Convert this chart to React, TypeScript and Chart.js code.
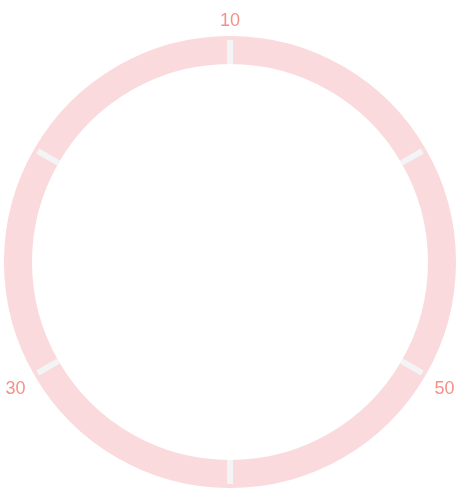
import React, { useEffect, useRef } from "react";
import { Chart, registerables } from "chart.js";

Chart.register(...registerables);

const categories = ["S1", "S2", "S3", "S4", "S5", "S6"];
const values = [1, 1, 1, 1, 1, 1];
const tickLabels = ["10", "", "50", "", "30", ""];

const RING_COLOR = "#fadadc";
const TICK_COLOR = "#f3f4f6";
const LABEL_COLOR = "#f4918a";

const ringPlugin = {
  id: "ringTicks",
  afterDatasetsDraw(chart: any) {
    const meta = chart.getDatasetMeta(0);
    const ctx = chart.ctx as CanvasRenderingContext2D;
    ctx.save();
    meta.data.forEach((arc: any, i: number) => {
      const { x, y, startAngle, innerRadius, outerRadius } = arc.getProps(
        ["x", "y", "startAngle", "innerRadius", "outerRadius"],
        true
      );
      const cos = Math.cos(startAngle);
      const sin = Math.sin(startAngle);
      ctx.strokeStyle = TICK_COLOR;
      ctx.lineWidth = 6;
      ctx.lineCap = "butt";
      ctx.beginPath();
      ctx.moveTo(x + cos * innerRadius, y + sin * innerRadius);
      ctx.lineTo(x + cos * (outerRadius - 4), y + sin * (outerRadius - 4));
      ctx.stroke();

      const label = tickLabels[i];
      if (label) {
        const r = outerRadius + 10;
        const lx = x + cos * r;
        const ly = y + sin * r;
        ctx.fillStyle = LABEL_COLOR;
        ctx.font = "18px 'Liberation Sans', Arial, Helvetica, sans-serif";
        ctx.textAlign = cos > 0.1 ? "left" : cos < -0.1 ? "right" : "center";
        ctx.textBaseline = sin < -0.1 ? "alphabetic" : sin > 0.1 ? "top" : "middle";
        ctx.fillText(label, lx, ly);
      }
    });
    ctx.restore();
  },
};

export default function App() {
  const canvasRef = useRef<HTMLCanvasElement | null>(null);

  useEffect(() => {
    if (!canvasRef.current) return;
    const chart = new Chart(canvasRef.current, {
      type: "doughnut",
      data: {
        labels: categories,
        datasets: [
          {
            data: values,
            backgroundColor: RING_COLOR,
            borderWidth: 0,
            hoverOffset: 0,
          },
        ],
      },
      options: {
        responsive: true,
        maintainAspectRatio: false,
        animation: false,
        cutout: "87.6%",
        layout: { padding: { left: 4, right: 7, top: 36, bottom: 12 } },
        plugins: {
          legend: { display: false },
          tooltip: { enabled: false },
        },
      },
      plugins: [ringPlugin],
    });
    return () => chart.destroy();
  }, []);

  return (
    <div
      style={{
        position: "absolute",
        left: 0,
        top: 0,
        width: 463,
        height: 500,
        background: "#ffffff",
      }}
    >
      <canvas ref={canvasRef} />
    </div>
  );
}
